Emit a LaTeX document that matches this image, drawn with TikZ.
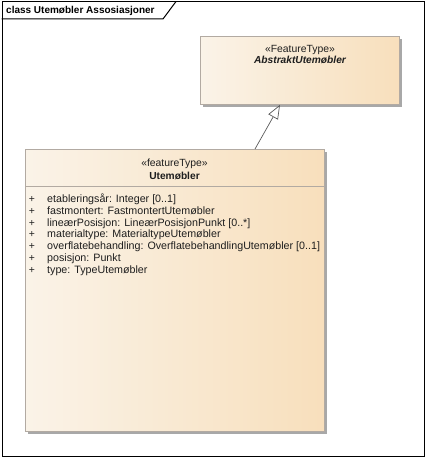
\documentclass[tikz,border=0pt]{standalone}
\usepackage{fontspec}
\setmainfont{Liberation Sans}
\usetikzlibrary{arrows.meta,shadows}
\definecolor{gradL}{RGB}{250,243,232}
\definecolor{gradR}{RGB}{248,223,188}
\definecolor{boxline}{RGB}{178,170,162}
\definecolor{shadowgray}{RGB}{168,168,168}
\definecolor{linkgray}{RGB}{90,90,90}
\definecolor{textgray}{RGB}{30,30,30}
\begin{document}
\begin{tikzpicture}[x=1pt,y=-1pt,
  classbox/.style={draw=boxline, line width=0.8pt, left color=gradL, right color=gradR,
    inner sep=0pt, anchor=north west,
    drop shadow={shadow xshift=3pt, shadow yshift=-3pt, fill=shadowgray, opacity=1}},
  txt/.style={inner sep=0pt, font=\fontsize{10.4}{12}\selectfont, text=textgray},
  attr/.style={txt, anchor=base west, font=\fontsize{10.7}{12}\selectfont},
  plus/.style={txt, anchor=base},
  frame/.style={draw=black, line width=1pt, inner sep=0pt, anchor=north west},
  gen/.style={draw=linkgray, line width=0.7pt, -{Triangle[length=14pt,width=11pt,fill=white]}}]
\useasboundingbox (0,0) rectangle (425,457);
% frame
\node[frame, minimum width=422.5pt, minimum height=454pt] (frame) at (1.5,1.5) {};
\coordinate (tabA) at (163,19);
\coordinate (tabB) at (176,1.5);
\draw[black, line width=1pt] (frame.west |- tabA) -- (tabA) -- (tabB);
\node[txt, anchor=base west, text=black, font=\fontsize{10}{12}\selectfont\bfseries] (tab) at (6,14) {class Utemøbler Assosiasjoner};
% classes
\node[classbox, minimum width=199pt, minimum height=68pt] (abs) at (200,36) {};
\node[classbox, minimum width=299pt, minimum height=282pt] (ute) at (25,149) {};
% abstract class texts
\node[txt, anchor=base] (absst) at (300,53) {«FeatureType»};
\node[txt, anchor=base, font=\fontsize{10.2}{12}\selectfont\bfseries\itshape] (absname) at (300,64) {AbstraktUtemøbler};
% Utemøbler texts
\node[txt, anchor=base] (utest) at (174.5,167) {«featureType»};
\node[txt, anchor=base, font=\fontsize{10.2}{12}\selectfont\bfseries] (utename) at (174.5,179) {Utemøbler};
\coordinate (sepy) at (0,186.5);
\draw[boxline, line width=0.8pt] (ute.west |- sepy) -- (ute.east |- sepy);
\node[plus] (p1) at (32,202.5) {+};
\node[attr] (a1) at (47,202.5) {etableringsår: Integer [0..1]};
\node[plus] (p2) at (32,214.3) {+};
\node[attr] (a2) at (47,214.3) {fastmontert: FastmontertUtemøbler};
\node[plus] (p3) at (32,226.1) {+};
\node[attr] (a3) at (47,226.1) {lineærPosisjon: LineærPosisjonPunkt [0..*]};
\node[plus] (p4) at (32,237.9) {+};
\node[attr] (a4) at (47,237.9) {materialtype: MaterialtypeUtemøbler};
\node[plus] (p5) at (32,249.7) {+};
\node[attr] (a5) at (47,249.7) {overflatebehandling: OverflatebehandlingUtemøbler [0..1]};
\node[plus] (p6) at (32,261.5) {+};
\node[attr] (a6) at (47,261.5) {posisjon: Punkt};
\node[plus] (p7) at (32,273.3) {+};
\node[attr] (a7) at (47,273.3) {type: TypeUtemøbler};
% generalization
\draw[gen] ([xshift=230pt]ute.north west) -- ([xshift=80pt]abs.south west);
\end{tikzpicture}
\end{document}
